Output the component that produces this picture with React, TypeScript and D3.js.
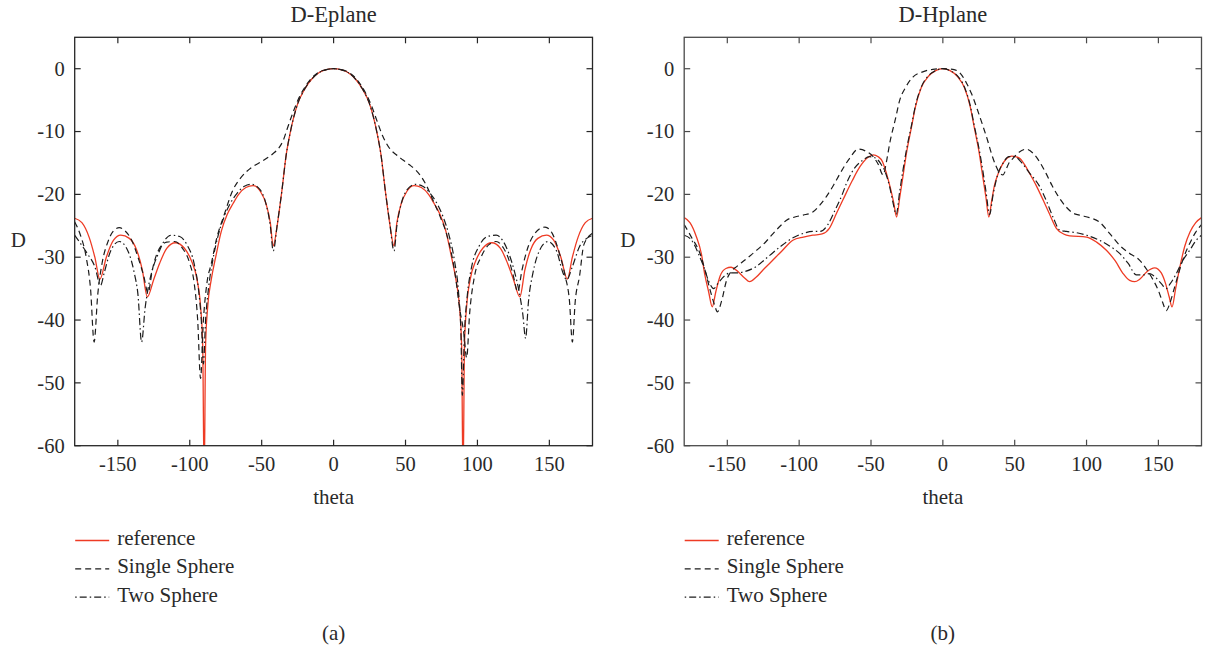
import React from "react";
import * as d3 from "d3";

type Pt = [number, number];

const thetaTicks = [-150, -100, -50, 0, 50, 100, 150];
const dTicks = [-60, -50, -40, -30, -20, -10, 0];
const legendLabels = ["reference", "Single Sphere", "Two Sphere"];
const panelTitles = ["D-Eplane", "D-Hplane"];
const panelCaptions = ["(a)", "(b)"];
const xLabel = "theta";
const yLabel = "D";

// E-plane
const eplaneRef: Pt[] = [
  [-180, -23.8], [-175, -24.5], [-170, -26.8], [-166, -30], [-162.5, -33.5], [-158, -30], [-153, -27.3],
  [-148, -26.5], [-142, -27], [-137, -28.8], [-133, -32], [-129.5, -36.3], [-125, -33.5], [-121, -31],
  [-116, -28.6], [-110, -27.7], [-104, -28.5], [-99, -30.5], [-95, -33.5], [-92.5, -37.8], [-91, -44],
  [-90, -66], [-89, -44], [-87.5, -37.8], [-85, -33.5], [-82, -30], [-78, -25.8], [-74, -23.2], [-70, -21.5],
  [-66, -20], [-61, -18.9], [-56, -18.6], [-51, -19.5], [-47, -21.5], [-44, -24.5], [-42, -28.2], [-39, -24.6],
  [-36, -19.5], [-33, -13.8], [-30, -10], [-25, -5.6], [-20, -3.2], [-15, -1.6], [-10, -0.6], [-5, -0.15],
  [0, 0], [5, -0.15], [10, -0.6], [15, -1.6], [20, -3.2], [25, -5.6], [30, -10], [33, -13.8], [36, -19.5],
  [39, -24.6], [42, -28.2], [44, -24.5], [47, -21.5], [51, -19.5], [56, -18.6], [61, -18.9], [66, -20],
  [70, -21.5], [74, -23.2], [78, -25.8], [82, -30], [85, -33.5], [87.5, -37.8], [89, -44], [90, -66], [91, -44],
  [92.5, -37.8], [95, -33.5], [99, -30.5], [104, -28.5], [110, -27.7], [116, -28.6], [121, -31], [125, -33.5],
  [129.5, -36.3], [133, -32], [137, -28.8], [142, -27], [148, -26.5], [153, -27.3], [158, -30], [162.5, -33.5],
  [166, -30], [170, -26.8], [175, -24.5], [180, -23.8],
];

const eplaneSingle: Pt[] = [
  [-180, -24.4], [-176, -26.5], [-172, -30], [-169, -35], [-166.5, -43.5], [-164, -36], [-161, -31], [-157, -27.6],
  [-153, -25.8], [-149, -25.3], [-145, -25.8], [-140, -27.5], [-136, -30], [-132, -33], [-129, -35.7], [-126, -32],
  [-122, -29], [-116, -27.6], [-110.6, -27.5], [-105, -28.6], [-100, -31], [-97, -34], [-94.5, -40], [-92.5, -49.3],
  [-90.5, -40], [-88, -34], [-85, -31], [-81.6, -27.3], [-76, -23.2], [-70, -19.3], [-65, -17.5], [-60.7, -16.4],
  [-55, -15.4], [-51, -14.9], [-46.8, -14.3], [-42, -13.5], [-38, -12.6], [-35, -11.4], [-32, -9.4], [-28.3, -7],
  [-24, -4.6], [-19, -2.6], [-14, -1.2], [-9, -0.4], [-4, -0.1], [0, 0], [4, -0.1], [9, -0.4], [14, -1.2],
  [19, -2.6], [23, -4.2], [26.2, -5.8], [30, -8.2], [34.3, -10.8], [39, -12.7], [43.6, -13.7], [48, -14.5],
  [52.8, -15.3], [57, -16.1], [61, -17.2], [65, -18.8], [69, -20.9], [74, -23.5], [78.4, -26.2], [82, -29.5],
  [85, -33.5], [87.5, -38], [90.5, -42], [92.5, -46], [94.6, -38.9], [98, -33], [102.7, -29.9], [108, -28],
  [113, -27.5], [118, -28.5], [122, -30.5], [125, -33], [128, -35.5], [131, -32], [135, -28.5], [140, -26.2],
  [147, -25.2], [152, -26.2], [157, -29.4], [161, -33], [164, -37], [166, -43.5], [168, -37], [171, -33],
  [174, -28], [180, -26.2],
];

const eplaneTwo: Pt[] = [
  [-180, -26.5], [-176, -27.8], [-171, -29.5], [-166, -31.5], [-162, -34.5], [-159.5, -32.5], [-155, -29],
  [-149, -27.5], [-143, -29], [-138.6, -32.5], [-136, -36], [-133.5, -43.5], [-131, -38], [-129, -35],
  [-126, -32], [-122, -29.5], [-118, -27.5], [-113, -26.5], [-107, -26.7], [-102, -28], [-97, -31], [-94, -35],
  [-92, -40], [-90.5, -47], [-89, -40], [-87, -35], [-84, -30.5], [-80, -26.3], [-76, -23.5], [-72, -21.5],
  [-67, -19.8], [-62, -18.7], [-57, -18.4], [-51, -19.3], [-47, -21.5], [-44, -25], [-42, -29], [-39, -24.5],
  [-36, -19.5], [-33, -13.8], [-30, -10], [-25, -5.6], [-20, -3.2], [-15, -1.6], [-10, -0.6], [-5, -0.15],
  [0, 0], [5, -0.15], [10, -0.6], [15, -1.6], [20, -3.2], [25, -5.6], [30, -10], [33, -13.8], [36, -19.5],
  [39, -24.5], [42, -29], [44, -25], [47, -21.5], [51, -19.3], [57, -18.4], [62, -18.7], [67, -19.8],
  [72, -21.5], [76, -23.5], [80, -26.3], [84, -30.5], [87, -36], [88.5, -42], [89.5, -52], [91, -42],
  [93, -36], [96, -31.5], [101, -28.3], [107, -26.7], [113, -26.5], [118, -27.5], [122, -29.5], [126, -32.5],
  [129, -35.5], [131.5, -39], [133.5, -42.9], [135.5, -37], [138.6, -32.5], [143, -29], [149, -27.5],
  [155, -29], [159.5, -32.5], [162, -33.6], [166, -31.5], [171, -28.3], [176, -27], [180, -26.5],
];

// H-plane
const hplaneRef: Pt[] = [
  [-180, -23.7], [-176, -24.5], [-171.6, -26.7], [-168, -29.5], [-165.8, -32.6], [-163, -35.5], [-160.5, -37.9],
  [-158, -35.5], [-155, -33], [-151, -31.8], [-147.3, -31.6], [-143, -32.2], [-138, -33.3], [-134.5, -33.9],
  [-130, -33.2], [-125, -32], [-120.6, -31], [-112, -29], [-104.4, -27.3], [-97, -26.8], [-90.5, -26.5],
  [-84, -26.3], [-79, -25.4], [-74, -23], [-69.6, -20.9], [-63, -17.8], [-57.7, -15.6], [-52, -14.1],
  [-48.5, -13.7], [-45, -14], [-42, -14.8], [-39.2, -16.7], [-36.5, -19], [-34.2, -21.3], [-32.2, -23.6],
  [-30, -20.5], [-28, -17.5], [-25, -13], [-22, -9.5], [-19, -6], [-15, -3], [-10, -1.2], [-5, -0.3], [0, 0],
  [5, -0.3], [10, -1.2], [15, -3], [19, -6], [22, -9.5], [25, -13], [28, -17.5], [30, -20.5], [32, -23.6],
  [34, -21], [36, -18.5], [38.5, -16.7], [42, -15], [47.8, -13.9], [53, -14.2], [57, -15.3], [60.5, -16.7],
  [65, -18.6], [69.8, -20.9], [74, -23], [79, -25.4], [84, -26.3], [88.3, -26.6], [100, -26.8], [107, -27.6],
  [113.8, -28.9], [120, -30.6], [125.4, -32.6], [130, -33.7], [133.5, -33.9], [137, -33.5], [142, -32.3],
  [147.4, -31.7], [152, -32.5], [155, -34.2], [157.5, -36.3], [159.5, -37.9], [162, -35], [165, -31.5],
  [168.3, -28.3], [172, -26], [176, -24.5], [180, -23.7],
];

const hplaneSingle: Pt[] = [
  [-180, -24.8], [-175, -26.8], [-169, -29.4], [-165, -32.5], [-162, -35.2], [-159, -37.5], [-156.9, -38.7],
  [-154, -37], [-150.4, -33.6], [-147, -32.2], [-143.5, -31.5], [-137, -30.3], [-129.6, -28.9], [-123, -27.5],
  [-118, -26.2], [-113, -25], [-108.8, -24.1], [-103, -23.6], [-97.2, -23.3], [-90.5, -22.8], [-86, -21.8],
  [-81.2, -20.4], [-76, -18.5], [-71.6, -16.7], [-65, -14.3], [-58.9, -12.8], [-53, -13.2], [-48.5, -14],
  [-45, -15.2], [-41.6, -16.9], [-39, -14.5], [-37, -11.9], [-33, -8], [-30, -5], [-26, -3], [-20.7, -1.3],
  [-14, -0.5], [-7, -0.1], [0, 0], [7, -0.1], [12, -0.7], [16.5, -2.3], [20, -4], [24, -6.5], [28, -9.2],
  [31, -11.3], [33.8, -13.5], [37, -15.5], [39.5, -16.6], [41.8, -16.9], [44, -16], [46, -15], [48.7, -14.3],
  [53, -13.3], [58, -12.8], [63, -13.5], [67, -14.7], [71.9, -16.7], [76, -18.6], [80, -20.2], [85.8, -22],
  [90, -22.9], [95, -23.3], [102, -23.7], [109, -24.4], [116, -26.2], [123, -28.1], [130, -29.4], [137, -30.5],
  [142, -32], [146.3, -33.6], [150, -35.3], [153, -37.2], [155.5, -38.5], [158, -37.3], [161, -35],
  [164.8, -32], [168, -29.8], [171.8, -27.8], [176, -26], [180, -24.8],
];

const hplaneTwo: Pt[] = [
  [-180, -26.5], [-176, -27], [-173.4, -27.8], [-170, -29.5], [-166.4, -31.5], [-163, -33.8], [-159.5, -35],
  [-156, -34], [-152, -33], [-148, -32.5], [-143, -32.5], [-138, -32.3], [-130, -31.5], [-122, -30],
  [-113, -28.3], [-105, -27], [-97, -26.2], [-90, -25.9], [-85.5, -25.9], [-80, -24.8], [-75, -22.5],
  [-70, -20], [-67, -18.2], [-62, -16], [-56, -14.6], [-51, -14], [-47, -14.2], [-43, -15.2], [-40, -16.5],
  [-37, -18.8], [-34.5, -21.5], [-32.5, -23.2], [-30, -19.5], [-28, -16.5], [-25, -12.5], [-22, -9.2],
  [-19, -5.8], [-15, -2.9], [-10, -1.1], [-5, -0.3], [0, 0], [5, -0.3], [10, -1.1], [15, -2.9], [19, -5.8],
  [22, -9.2], [25, -12.5], [28, -16.5], [30, -19.5], [32.5, -23.2], [35, -20], [38, -17], [42, -15],
  [46, -14], [50, -14], [55, -15], [60, -16.5], [67.5, -18.8], [72, -21], [77, -23.8], [81.4, -25.7],
  [86, -25.9], [93, -26.1], [100, -26.5], [109, -27.3], [116, -28.2], [123, -29.4], [129, -31], [134.6, -32.8],
  [140, -32.8], [143.9, -32.6], [148, -33.2], [152, -34.2], [155.5, -35], [158, -34.3], [162.5, -32.6],
  [167, -30.5], [171.8, -28.9], [176, -27.4], [180, -26.5],
];

const seriesStyles = [
  { color: "#ee3b24", dash: undefined as string | undefined, width: 1.3 },
  { color: "#1c1c1c", dash: "6,4", width: 1.2 },
  { color: "#1c1c1c", dash: "7,3,1.5,3", width: 1.2 },
];

const FONT = "'Liberation Serif', 'Times New Roman', serif";
const TEXT = "#2a2a2a";
const TOP = 37.3;
const BOTTOM = 445.7;

function Panel(props: {
  id: string;
  x0: number;
  x1: number;
  title: string;
  caption: string;
  series: Pt[][];
  frame: string;
}) {
  const { id, x0, x1, title, caption, series, frame } = props;
  const xs = d3.scaleLinear().domain([-180, 180]).range([x0, x1]);
  const ys = d3.scaleLinear().domain([-60, 5]).range([BOTTOM, TOP]);
  const line = d3
    .line<Pt>()
    .x((d) => xs(d[0]))
    .y((d) => ys(d[1]))
    .curve(d3.curveMonotoneX);
  const cx = (x0 + x1) / 2;
  const tl = 6;
  const legendY = [545, 573.3, 601.7];
  return (
    <g>
      <defs>
        <clipPath id={id}>
          <rect x={x0} y={TOP} width={x1 - x0} height={BOTTOM - TOP} />
        </clipPath>
      </defs>
      <g clipPath={`url(#${id})`}>
        {series.map((s, i) => (
          <path
            key={i}
            d={line(s) || ""}
            fill="none"
            stroke={seriesStyles[i].color}
            strokeWidth={seriesStyles[i].width}
            strokeDasharray={seriesStyles[i].dash}
            strokeLinejoin="round"
          />
        ))}
      </g>
      <rect x={x0} y={TOP} width={x1 - x0} height={BOTTOM - TOP} fill="none" stroke={frame} strokeWidth={1.3} />
      {thetaTicks.map((t) => (
        <g key={"x" + t}>
          <line x1={xs(t)} x2={xs(t)} y1={BOTTOM} y2={BOTTOM - tl} stroke={frame} strokeWidth={1.2} />
          <line x1={xs(t)} x2={xs(t)} y1={TOP} y2={TOP + tl} stroke={frame} strokeWidth={1.2} />
          <text x={xs(t)} y={470.7} textAnchor="middle" fontFamily={FONT} fontSize={20.5} fill={TEXT}>
            {String(t)}
          </text>
        </g>
      ))}
      {dTicks.map((v) => (
        <g key={"y" + v}>
          <line x1={x0} x2={x0 + tl} y1={ys(v)} y2={ys(v)} stroke={frame} strokeWidth={1.2} />
          <line x1={x1} x2={x1 - tl} y1={ys(v)} y2={ys(v)} stroke={frame} strokeWidth={1.2} />
          <text x={x0 - 10} y={ys(v) + 6.8} textAnchor="end" fontFamily={FONT} fontSize={20.5} fill={TEXT}>
            {String(v)}
          </text>
        </g>
      ))}
      <text x={cx} y={22.3} textAnchor="middle" fontFamily={FONT} fontSize={22.5} fill={TEXT}>
        {title}
      </text>
      <text x={cx} y={503.5} textAnchor="middle" fontFamily={FONT} fontSize={21} fill={TEXT}>
        {xLabel}
      </text>
      <text x={x0 - 56.4} y={247} textAnchor="middle" fontFamily={FONT} fontSize={21} fill={TEXT}>
        {yLabel}
      </text>
      {legendLabels.map((lab, i) => (
        <g key={lab}>
          <line
            x1={x0 + 0.5}
            x2={x0 + 34.5}
            y1={legendY[i] - 4.5}
            y2={legendY[i] - 4.5}
            stroke={seriesStyles[i].color}
            strokeWidth={seriesStyles[i].width}
            strokeDasharray={i === 2 ? "1.5,3,7,3" : seriesStyles[i].dash}
          />
          <text x={x0 + 42.5} y={legendY[i]} fontFamily={FONT} fontSize={21} fill={TEXT}>
            {lab}
          </text>
        </g>
      ))}
      <text x={cx} y={640} textAnchor="middle" fontFamily={FONT} fontSize={21} fill={TEXT}>
        {caption}
      </text>
    </g>
  );
}

export default function App() {
  return (
    <svg
      width={1207}
      height={651}
      viewBox="0 0 1207 651"
      style={{ position: "absolute", left: 0, top: 0, background: "#fff" }}
    >
      <rect x={0} y={0} width={1207} height={651} fill="#fff" />
      <Panel
        id="clipE"
        x0={74.7}
        x1={592.5}
        title={panelTitles[0]}
        caption={panelCaptions[0]}
        series={[eplaneRef, eplaneSingle, eplaneTwo]}
        frame="#262626"
      />
      <Panel
        id="clipH"
        x0={684.2}
        x1={1201.5}
        title={panelTitles[1]}
        caption={panelCaptions[1]}
        series={[hplaneRef, hplaneSingle, hplaneTwo]}
        frame="#4a4a4a"
      />
    </svg>
  );
}
